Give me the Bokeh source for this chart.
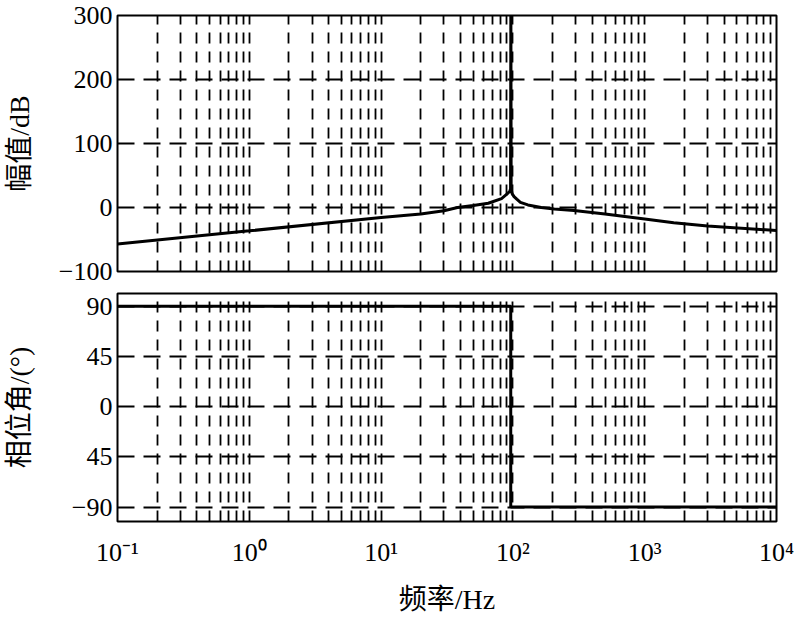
from bokeh.plotting import figure
from bokeh.layouts import column
from bokeh.models import FixedTicker, CustomJSTickFormatter, Range1d
from bokeh.embed import file_html
from bokeh.resources import INLINE

# ---- data ----
freq_mag = [0.1, 1, 10, 20, 30, 38, 50, 65, 82, 89, 94.5, 96, 96.5, 97, 98.5, 102, 107, 114, 130, 164,
            206, 291, 500, 1000, 1660, 3000, 10000]
mag_db = [-57, -36.5, -15.5, -10, -5, 0, 3, 6.6, 14, 20, 25, 29, 320, 29, 22, 17, 13, 8, 4, 0,
          -2.5, -4.6, -10, -18, -24, -29, -36]

freq_phase = [0.1, 96.3, 96.3, 10000]
phase_deg = [90, 90, -90, -90]

x_major = [0.1, 1, 10, 100, 1000, 10000]
mag_ticks = [-100, 0, 100, 200, 300]
phase_ticks = [-90, -45, 0, 45, 90]

SERIF = "Liberation Serif, Noto Sans CJK SC"
W = 797
x_minor = [m * d for d in x_major[:-1] for m in range(2, 10)]


def style(p, yticks):
    p.outline_line_color = "black"
    p.outline_line_width = 2
    p.background_fill_color = "white"
    p.border_fill_color = "white"
    xt = FixedTicker(ticks=x_major, minor_ticks=x_minor)
    yt = FixedTicker(ticks=yticks, minor_ticks=[])
    p.xaxis.ticker = xt
    p.yaxis.ticker = yt
    p.xgrid.ticker = xt
    p.ygrid.ticker = yt
    p.xgrid.grid_line_color = "black"
    p.xgrid.grid_line_width = 1.8
    p.xgrid.grid_line_dash = "11 8"
    p.xgrid.minor_grid_line_color = "black"
    p.xgrid.minor_grid_line_width = 1.8
    p.xgrid.minor_grid_line_dash = "11 8"
    p.ygrid.grid_line_color = "black"
    p.ygrid.grid_line_width = 1.8
    p.ygrid.grid_line_dash = "17 9"
    for ax in (p.xaxis, p.yaxis):
        ax.axis_line_color = None
        ax.major_tick_line_color = None
        ax.minor_tick_line_color = None
        ax.major_tick_out = 0
        ax.minor_tick_out = 0
        ax.major_tick_in = 0
        ax.minor_tick_in = 0
        ax.major_label_text_font = "Liberation Serif"
        ax.major_label_text_font_size = "26px"
        ax.major_label_text_color = "black"
        ax.axis_label_text_font = SERIF
        ax.axis_label_text_font_size = "28px"
        ax.axis_label_text_font_style = "normal"
        ax.axis_label_text_color = "black"
    p.yaxis.major_label_standoff = 5


top = figure(width=W, height=287, x_axis_type="log",
             x_range=Range1d(0.1, 1e4), y_range=Range1d(-100, 300),
             output_backend="svg", toolbar_location=None,
             min_border_left=115, min_border_right=21, min_border_top=15, min_border_bottom=16)
style(top, mag_ticks)
top.xaxis.visible = False
top.yaxis.formatter = CustomJSTickFormatter(
    code="return tick < 0 ? '\u2212' + Math.abs(tick) : String(tick);")
top.yaxis.axis_label = "幅值/dB"
top.yaxis.axis_label_standoff = 21
top.line(freq_mag, mag_db, line_width=3, line_color="black")

bot = figure(width=W, height=330, x_axis_type="log",
             x_range=Range1d(0.1, 1e4), y_range=Range1d(-103, 101.5),
             output_backend="svg", toolbar_location=None,
             min_border_left=115, min_border_right=21, min_border_top=6, min_border_bottom=90)
style(bot, phase_ticks)
bot.yaxis.formatter = CustomJSTickFormatter(
    code="if (tick == -45) return '45'; return tick < 0 ? '\u2212' + Math.abs(tick) : String(tick);")
bot.xaxis.formatter = CustomJSTickFormatter(code="""
const e = Math.round(Math.log10(tick));
const m = {"-": "\u207b", "0": "\u2070", "1": "\u00b9", "2": "\u00b2", "3": "\u00b3", "4": "\u2074"};
return "10" + String(e).split("").map(c => m[c]).join("");
""")
bot.xaxis.major_label_standoff = 16
bot.xaxis.axis_label = "频率/Hz"
bot.xaxis.axis_label_standoff = 14
bot.yaxis.axis_label = "相位角/(°)"
bot.yaxis.axis_label_standoff = 34
bot.line(freq_phase, phase_deg, line_width=3, line_color="black")

layout = column(top, bot, spacing=0)
open("out.html", "w", encoding="utf-8").write(file_html(layout, INLINE))
